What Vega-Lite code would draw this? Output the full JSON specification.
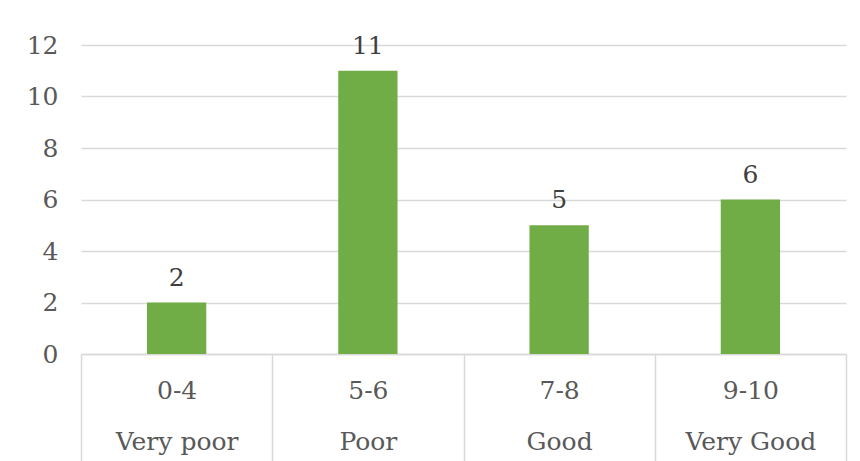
{
  "$schema": "https://vega.github.io/schema/vega-lite/v6.json",
  "width": 765,
  "height": 309,
  "autosize": "none",
  "padding": {"left": 81, "top": 45, "right": 14, "bottom": 107},
  "background": "white",
  "config": {"view": {"stroke": null}, "font": "DejaVu Serif"},
  "data": {"values": [
    {"range": "0-4", "quality": "Very poor", "count": 2},
    {"range": "5-6", "quality": "Poor", "count": 11},
    {"range": "7-8", "quality": "Good", "count": 5},
    {"range": "9-10", "quality": "Very Good", "count": 6}
  ]},
  "transform": [{"calculate": "datum.range + '|' + datum.quality", "as": "cat"}],
  "encoding": {
    "x": {
      "field": "cat", "type": "nominal", "sort": null,
      "scale": {"paddingInner": 0, "paddingOuter": 0},
      "axis": {
        "title": null, "labelAngle": 0, "grid": false,
        "tickBand": "extent", "tickSize": 107, "tickColor": "#d9d9d9", "tickWidth": 1.5,
        "domainColor": "#d9d9d9", "domainWidth": 1.5,
        "labelExpr": "split(datum.label, '|')",
        "labelPadding": -83, "labelFontSize": 25, "labelColor": "#595959",
        "labelBaseline": "top", "labelLineHeight": 51,
        "labelFont": "DejaVu Serif",
        "labelLimit": 300
      }
    },
    "y": {
      "field": "count", "type": "quantitative",
      "scale": {"domain": [0, 12], "nice": false},
      "axis": {
        "title": null, "domain": false, "ticks": false, "grid": true,
        "gridColor": "#d9d9d9", "gridWidth": 1.5,
        "values": [0, 2, 4, 6, 8, 10, 12],
        "labelFontSize": 25, "labelColor": "#595959", "labelPadding": 23,
        "labelFont": "DejaVu Serif"
      }
    }
  },
  "layer": [
    {"mark": {"type": "bar", "color": "#70AD47", "width": {"band": 0.31}}},
    {"mark": {"type": "text", "baseline": "alphabetic", "dy": -17, "fontSize": 25, "color": "#404040",
              "font": "DejaVu Serif"},
     "encoding": {"text": {"field": "count", "type": "quantitative"}}}
  ]
}
